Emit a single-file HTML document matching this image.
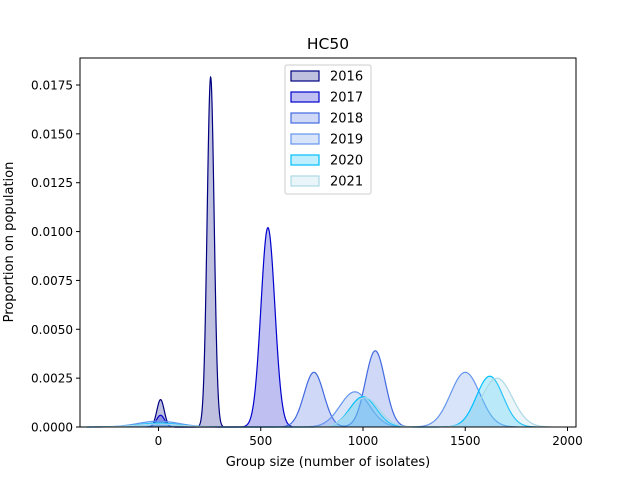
<!DOCTYPE html>
<html><head><meta charset="utf-8"><style>
body{margin:0;background:#fff;}
svg{font-family:"DejaVu Sans","Liberation Sans",sans-serif;}
</style></head><body>
<svg id="chart" width="640" height="480" xmlns="http://www.w3.org/2000/svg">
<rect width="640" height="480" fill="#fff"/>
<g id="plot"></g>
<g id="axes"></g>
<text x="328" y="49" text-anchor="middle" font-size="15.5">HC50</text>
<text x="328" y="466" text-anchor="middle" font-size="13">Group size (number of isolates)</text>
<text transform="translate(13,242) rotate(-90)" text-anchor="middle" font-size="13">Proportion on population</text>
<g id="legend"></g>
</svg>
<script>
const years = ["2016","2017","2018","2019","2020","2021"];
const colors = ["#000080","#0000cd","#4169e1","#6495ed","#00bfff","#add8e6"];
const centers = [[10,255],[10,535],[0,760,1060],[0,960,1500],[0,1000,1620],[0,1010,1655]];
const peaks = [[0.0014,0.0179],[0.0006,0.0102],[0.0002,0.0028,0.0039],[0.0003,0.0018,0.0028],[0.0002,0.00155,0.0026],[0.00015,0.0015,0.0025]];
const sigmas = [[18,17],[20,34],[90,48,48],[100,72,72],[100,65,65],[110,70,75]];
const xTicks = [0,500,1000,1500,2000];
const yTicks = [0,0.0025,0.005,0.0075,0.01,0.0125,0.015,0.0175];
const yTickLabels = ["0.0000","0.0025","0.0050","0.0075","0.0100","0.0125","0.0150","0.0175"];

const L=80,R=576,T=58,B=427;
const sx = v => 158.5 + v*0.2045;
const sy = v => B - v*(342/0.0175);
const NS="http://www.w3.org/2000/svg";
function mk(tag,attrs,parent){const e=document.createElementNS(NS,tag);for(const k in attrs)e.setAttribute(k,attrs[k]);parent.appendChild(e);return e;}
const plot=document.getElementById('plot'), axes=document.getElementById('axes'), legend=document.getElementById('legend');

years.forEach((y,i)=>{
  const lo=Math.min(...centers[i].map((c,j)=>c-3.5*sigmas[i][j]));
  const hi=Math.max(...centers[i].map((c,j)=>c+3.5*sigmas[i][j]));
  let pts=[];
  for(let k=0;k<=400;k++){
    const x=lo+(hi-lo)*k/400;
    let d=0;
    centers[i].forEach((c,j)=>{d+=peaks[i][j]*Math.exp(-0.5*((x-c)/sigmas[i][j])**2);});
    pts.push([sx(x),sy(d)]);
  }
  const line=pts.map(p=>p[0].toFixed(2)+","+p[1].toFixed(2)).join(" L");
  const area=mk('path',{d:"M"+sx(lo)+","+B+" L"+line+" L"+sx(hi)+","+B+" Z",fill:colors[i],'fill-opacity':0.25,stroke:'none'},plot);
  
  
  const ln=mk('path',{d:"M"+line,fill:'none',stroke:colors[i],'stroke-width':1.2},plot);
  
  
});

const frame=mk('rect',{x:L,y:T,width:R-L,height:B-T,fill:'none',stroke:'#000','stroke-width':1},axes);


xTicks.forEach(t=>{
  const x=sx(t);
  mk('line',{x1:x,x2:x,y1:B,y2:B+4,stroke:'#000'},axes);
  const tx=mk('text',{x:x,y:B+18,'text-anchor':'middle','font-size':12},axes);
  tx.textContent=t;
  
  
});
yTicks.forEach((t,i)=>{
  const y=sy(t);
  mk('line',{x1:L-4,x2:L,y1:y,y2:y,stroke:'#000'},axes);
  const tx=mk('text',{x:L-7,y:y+4.5,'text-anchor':'end','font-size':12},axes);
  tx.textContent=yTickLabels[i];
  
  
});

const lb=mk('rect',{x:285,y:65,width:86,height:129,rx:2,fill:'#fff','fill-opacity':0.8,stroke:'#ccc'},legend);


years.forEach((y,i)=>{
  const yy=71+i*21;
  const g=mk('g',{},legend);
  
  
  mk('rect',{x:291,y:yy,width:28,height:10,fill:'#fff',stroke:'none'},g);
  mk('rect',{x:291,y:yy,width:28,height:10,fill:colors[i],'fill-opacity':0.25,stroke:colors[i],'stroke-width':1.2},g);
  const t=mk('text',{x:330,y:yy+9.5,'font-size':13},g);
  t.textContent=y;
});
</script>
</body></html>
